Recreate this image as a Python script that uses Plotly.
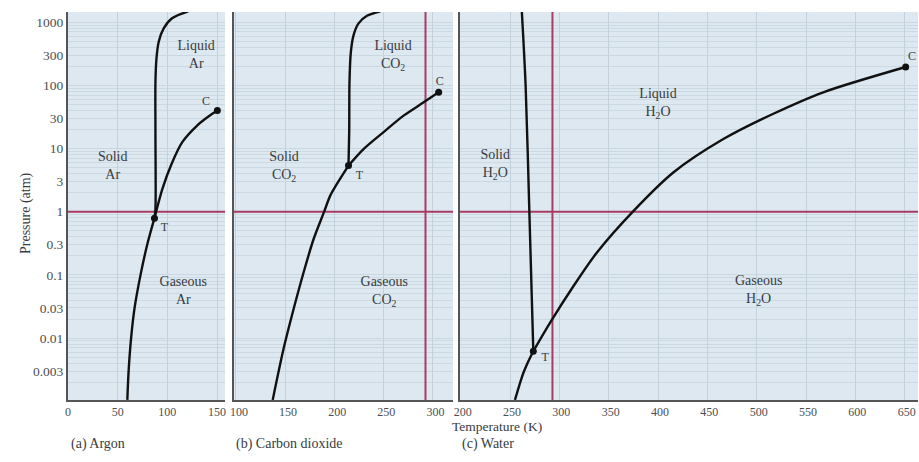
import plotly.graph_objects as go

# ---------------- data ----------------
ar_sub_T = [59.7, 61.0, 63.5, 67.0, 73.0, 79.7, 87.0]
ar_sub_P = [0.00105, 0.003, 0.01, 0.03, 0.1, 0.3, 0.79]
ar_melt_T = [87.0, 88.0, 88.0, 88.0, 89.0, 91.3, 96.3, 104.7, 121.0]
ar_melt_P = [0.79, 1.1, 18, 112, 263, 490, 794, 1148, 1479]
ar_vap_T = [87.0, 95.0, 104.0, 115.0, 129.7, 141.3, 150.3]
ar_vap_P = [0.79, 2.3, 5.6, 12.6, 22.9, 32.0, 39.8]
ar_triple = (87.0, 0.79)
ar_crit = (150.3, 39.8)

co2_sub_T = [137.4, 148.3, 158.5, 168.7, 178.9, 189.8, 195.9, 206.0, 214.6]
co2_sub_P = [0.00105, 0.0066, 0.028, 0.107, 0.363, 1.0, 1.78, 3.31, 5.37]
co2_melt_T = [214.6, 215.3, 215.6, 217.0, 219.7, 224.8, 233.4, 247.0]
co2_melt_P = [5.37, 18.2, 112, 339, 617, 955, 1259, 1479]
co2_vap_T = [214.6, 229.9, 250.3, 270.7, 291.1, 306.4]
co2_vap_P = [5.37, 9.8, 18.2, 33.1, 53.7, 77.6]
co2_triple = (214.6, 5.37)
co2_crit = (306.4, 77.6)

h2o_sub_T = [255.0, 259.5, 263.5, 268.6, 273.6]
h2o_sub_P = [0.00105, 0.0018, 0.0028, 0.0043, 0.0062]
h2o_melt_T = [273.6, 269.6, 265.8, 261.9]
h2o_melt_P = [0.0062, 1.0, 100, 1550]
h2o_vap_T = [273.6, 290.5, 314.2, 337.9, 375.0, 415.5, 466.2, 516.9, 567.5, 651.0]
h2o_vap_P = [0.0062, 0.0174, 0.066, 0.224, 1.02, 4.17, 14.1, 35.5, 77.6, 195]
h2o_triple = (273.6, 0.0062)
h2o_crit = (651.0, 195)

room_T = 293
one_atm = 1

y_ticks = [1000, 300, 100, 30, 10, 3, 1, 0.3, 0.1, 0.03, 0.01, 0.003]
y_labels = ["1000", "300", "100", "30", "10", "3", "1", "0.3", "0.1", "0.03", "0.01", "0.003"]
xa_ticks = [0, 50, 100, 150]
xa_labels = ["0", "50", "100", "150"]
xb_ticks = [100, 150, 200, 250, 300]
xb_labels = ["100", "150", "200", "250", "300"]
xc_ticks = [200, 250, 300, 350, 400, 450, 500, 550, 600, 650]
xc_labels = ["200", "250", "300", "350", "400", "450", "500", "550", "600", "650"]

# region labels: (x, y, text)
ar_labels = [(129, 295, "Liquid<br>Ar"), (45, 5.2, "Solid<br>Ar"), (116, 0.055, "Gaseous<br>Ar")]
co2_labels = [(260, 295, "Liquid<br>CO<sub>2</sub>"), (149, 5.2, "Solid<br>CO<sub>2</sub>"),
              (251, 0.055, "Gaseous<br>CO<sub>2</sub>")]
h2o_labels = [(400, 52, "Liquid<br>H<sub>2</sub>O"), (235, 5.5, "Solid<br>H<sub>2</sub>O"),
              (502, 0.056, "Gaseous<br>H<sub>2</sub>O")]
ar_pt_labels = [(139, 55, "C"), (97, 0.55, "T")]
co2_pt_labels = [(307.5, 112, "C"), (225.8, 3.7, "T")]
h2o_pt_labels = [(657.5, 282, "C"), (285.5, 0.0049, "T")]

# ---------------- figure ----------------
FONT = "Liberation Serif"
TXT = "#383c40"
TICK = "#4a4e52"
CURVE = "#111111"
MAG = "#a83a64"

fig = go.Figure()

panels = [
    ("x", "y", ar_sub_T, ar_sub_P, ar_melt_T, ar_melt_P, ar_vap_T, ar_vap_P, ar_triple, ar_crit, ar_labels, ar_pt_labels, [0, 158]),
    ("x2", "y2", co2_sub_T, co2_sub_P, co2_melt_T, co2_melt_P, co2_vap_T, co2_vap_P, co2_triple, co2_crit, co2_labels, co2_pt_labels, [98, 321]),
    ("x3", "y3", h2o_sub_T, h2o_sub_P, h2o_melt_T, h2o_melt_P, h2o_vap_T, h2o_vap_P, h2o_triple, h2o_crit, h2o_labels, h2o_pt_labels, [199.3, 663.5]),
]

for i, (xr, yr, sT, sP, mT, mP, vT, vP, tp, cp, labs, plabs, xrange) in enumerate(panels):
    # 1 atm line
    fig.add_trace(go.Scatter(x=xrange, y=[one_atm, one_atm], mode="lines",
                             line=dict(color=MAG, width=2), xaxis=xr, yaxis=yr,
                             showlegend=False, hoverinfo="skip"))
    if i > 0:
        fig.add_trace(go.Scatter(x=[room_T, room_T], y=[0.0009, 2000], mode="lines",
                                 line=dict(color=MAG, width=2), xaxis=xr, yaxis=yr,
                                 showlegend=False, hoverinfo="skip"))
    for T, P in ((sT, sP), (mT, mP), (vT, vP)):
        fig.add_trace(go.Scatter(x=T, y=P, mode="lines", line=dict(color=CURVE, width=2.4, shape="spline", smoothing=0.8),
                                 xaxis=xr, yaxis=yr, showlegend=False, hoverinfo="skip"))
    fig.add_trace(go.Scatter(x=[tp[0], cp[0]], y=[tp[1], cp[1]], mode="markers",
                             marker=dict(color=CURVE, size=7), xaxis=xr, yaxis=yr,
                             showlegend=False, hoverinfo="skip"))
    fig.add_trace(go.Scatter(x=[l[0] for l in labs], y=[l[1] for l in labs], text=[l[2] for l in labs],
                             mode="text", textfont=dict(family=FONT, size=14, color=TXT),
                             xaxis=xr, yaxis=yr, showlegend=False, hoverinfo="skip"))
    fig.add_trace(go.Scatter(x=[l[0] for l in plabs], y=[l[1] for l in plabs], text=[l[2] for l in plabs],
                             mode="text", textfont=dict(family=FONT, size=12, color=TXT),
                             xaxis=xr, yaxis=yr, showlegend=False, hoverinfo="skip", cliponaxis=False))

W, H = 919, 462
yd = [(H - 400) / H, (H - 12) / H]

def xaxis_style(dom, rng, ticks, labels, anchor, shift=0):
    return dict(domain=dom, range=rng, tickvals=ticks, ticktext=labels, ticklabelshift=shift,
                showgrid=True, gridcolor="#c2d1dc", gridwidth=1, zeroline=False, automargin=False,
                showline=True, linecolor="#555555", linewidth=2, ticks="",
                tickfont=dict(family=FONT, size=12, color=TICK), anchor=anchor)

def yaxis_style(anchor, show_labels):
    return dict(domain=yd, type="log", range=[-2.98, 3.16], tickvals=y_ticks, ticktext=y_labels,
                showticklabels=show_labels, showgrid=True, gridcolor="#c9d7e1", gridwidth=1,
                minor=dict(showgrid=True, gridcolor="#cbd9e3", gridwidth=1, dtick="D1", ticks=""),
                zeroline=False, showline=True, linecolor="#555555", linewidth=2, ticks="", automargin=False,
                tickfont=dict(family=FONT, size=13.5, color=TICK), anchor=anchor)

fig.update_layout(
    width=W, height=H,
    margin=dict(l=0, r=0, t=0, b=0),
    paper_bgcolor="white", plot_bgcolor="#dde8f0",
    xaxis=xaxis_style([68 / W, 225 / W], [0, 158], xa_ticks, xa_labels, "y"),
    xaxis2=xaxis_style([234 / W, 453 / W], [98, 321], xb_ticks, xb_labels, "y2", shift=3),
    xaxis3=xaxis_style([460 / W, 918 / W], [199.3, 663.5], xc_ticks, xc_labels, "y3", shift=2),
    yaxis=yaxis_style("x", True),
    yaxis2=yaxis_style("x2", False),
    yaxis3=yaxis_style("x3", False),
    annotations=[
        dict(text="Pressure (atm)", x=16 / W, y=(H - 213) / H, xref="paper", yref="paper",
             textangle=-90, showarrow=False, font=dict(family=FONT, size=14, color=TXT)),
        dict(text="Temperature (K)", x=497 / W, y=(H - 436) / H, xref="paper", yref="paper",
             showarrow=False, font=dict(family=FONT, size=13.5, color=TXT)),
        dict(text="(a) Argon", x=69 / W, y=(H - 454) / H, xref="paper", yref="paper", xanchor="left",
             showarrow=False, font=dict(family=FONT, size=14, color=TXT)),
        dict(text="(b) Carbon dioxide", x=234 / W, y=(H - 454) / H, xref="paper", yref="paper", xanchor="left",
             showarrow=False, font=dict(family=FONT, size=14, color=TXT)),
        dict(text="(c) Water", x=460 / W, y=(H - 454) / H, xref="paper", yref="paper", xanchor="left",
             showarrow=False, font=dict(family=FONT, size=14, color=TXT)),
    ],
)

fig.write_html("out.html", config={"displayModeBar": False},
               post_script="document.body.style.margin='0';document.body.style.overflow='hidden';")
